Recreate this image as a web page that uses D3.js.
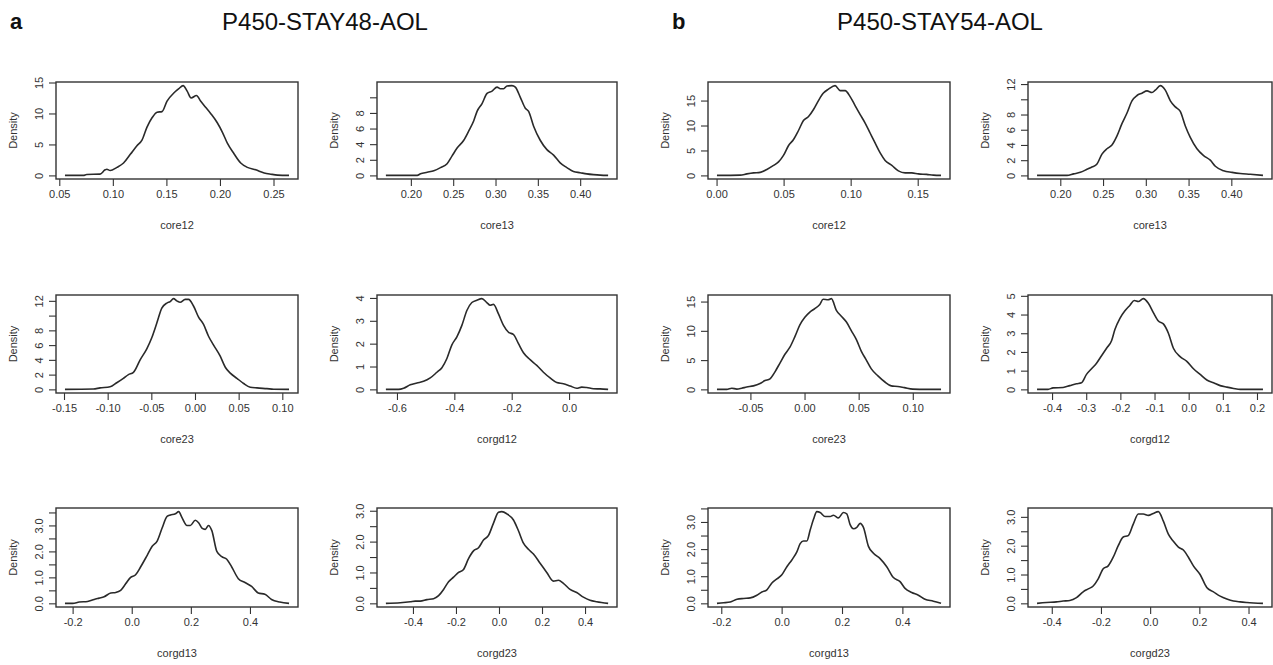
<!DOCTYPE html>
<html><head><meta charset="utf-8">
<script src="https://cdn.jsdelivr.net/npm/d3@7"></script>
<style>
html,body{margin:0;padding:0;background:#fff;}
svg{display:block;font-family:"Liberation Sans",Arial,sans-serif;}
</style></head>
<body><svg id="chart" width="1273" height="665"></svg>
<script>
// ---------- DATA ----------
const groupLetters = ["a", "b"];
const groupTitles = ["P450-STAY48-AOL", "P450-STAY54-AOL"];
const variables = ["core12", "core13", "core23", "corgd12", "corgd13", "corgd23"];

// Group a (P450-STAY48-AOL)
const a_core12_x = [0.0553,0.0725,0.0756,0.088,0.0928,0.0944,0.0975,0.1038,0.110,0.1163,0.1225,0.1272,0.1319,0.1366,0.1413,0.1459,0.1506,0.1569,0.1616,0.1656,0.1694,0.1731,0.1781,0.1819,0.1866,0.1913,0.1975,0.2022,0.2069,0.2131,0.2194,0.2256,0.2334,0.2413,0.2475,0.2538,0.2645];
const a_core12_d = [0,0,0.15,0.2,0.9,1.0,0.8,1.3,2.0,3.4,4.8,5.7,7.8,9.3,10.2,10.3,12.0,13.3,14.0,14.5,13.6,12.5,12.9,12.0,11.0,10.0,8.5,7.0,5.2,3.5,2.0,1.3,0.9,0.4,0.2,0.05,0];
const a_core13_x = [0.1705,0.2075,0.2114,0.2193,0.2271,0.235,0.2428,0.2487,0.2546,0.2625,0.2684,0.2743,0.2782,0.2841,0.29,0.2959,0.3018,0.3057,0.3096,0.3136,0.3194,0.3234,0.3293,0.3352,0.3391,0.345,0.3528,0.3607,0.3686,0.3764,0.3843,0.3921,0.40,0.4078,0.4157,0.4236,0.433];
const a_core13_d = [0,0,0.2,0.4,0.6,1.0,1.5,2.5,3.5,4.5,5.7,7.0,8.2,9.2,10.5,10.8,11.3,11.1,11.1,11.45,11.5,11.3,10.0,8.6,8.2,6.3,4.5,3.3,2.6,1.6,1.0,0.5,0.35,0.2,0.1,0.03,0];
const a_core23_x = [-0.1489,-0.1164,-0.1087,-0.0972,-0.0896,-0.082,-0.0762,-0.0705,-0.0628,-0.0552,-0.0495,-0.0437,-0.038,-0.0322,-0.0284,-0.0246,-0.0208,-0.017,-0.0112,-0.0074,-0.0017,0.0041,0.0098,0.0155,0.0213,0.0289,0.0347,0.0404,0.048,0.0557,0.0633,0.071,0.0824,0.0901,0.1077];
const a_core23_d = [0,0.05,0.2,0.35,0.9,1.5,2.0,2.3,4.0,5.5,7.0,9.0,11.0,11.7,11.9,12.3,12.0,11.8,12.2,12.2,11.3,9.8,8.8,7.2,6.0,4.5,3.0,2.2,1.5,0.8,0.3,0.2,0.1,0.02,0];
const a_corgd12_x = [-0.6386,-0.5942,-0.5768,-0.5536,-0.5304,-0.5072,-0.484,-0.4607,-0.4433,-0.4259,-0.4085,-0.3911,-0.3737,-0.3563,-0.3389,-0.3215,-0.3041,-0.2867,-0.2751,-0.2635,-0.2461,-0.2286,-0.2112,-0.1938,-0.1764,-0.159,-0.1358,-0.1126,-0.0894,-0.0662,-0.043,-0.0198,0.0035,0.0267,0.044,0.0615,0.0847,0.1079,0.1361];
const a_corgd12_d = [0,0,0.05,0.2,0.28,0.35,0.5,0.75,0.95,1.35,1.95,2.3,2.8,3.45,3.8,3.9,3.97,3.8,3.68,3.72,3.3,2.8,2.5,2.4,2.0,1.6,1.3,1.05,0.75,0.5,0.3,0.25,0.15,0.05,0.1,0.08,0.03,0.02,0];
const a_corgd13_x = [-0.2259,-0.2,-0.1776,-0.1495,-0.1271,-0.1103,-0.0935,-0.071,-0.0542,-0.0374,-0.0206,-0.0037,0.0131,0.0299,0.0523,0.0692,0.086,0.1028,0.1196,0.1308,0.1477,0.1589,0.1701,0.1869,0.1981,0.215,0.2262,0.2374,0.2486,0.2598,0.271,0.2879,0.3047,0.3215,0.3383,0.3607,0.3832,0.4056,0.428,0.4505,0.4729,0.501,0.5322];
const a_corgd13_d = [0,0,0.05,0.07,0.15,0.2,0.25,0.4,0.42,0.5,0.75,1.0,1.1,1.4,1.85,2.2,2.4,2.9,3.35,3.4,3.45,3.53,3.3,3.0,3.0,3.2,3.1,2.9,2.85,3.0,2.8,2.0,1.8,1.7,1.4,0.95,0.8,0.65,0.4,0.35,0.15,0.05,0];
const a_corgd23_x = [-0.5258,-0.4588,-0.4124,-0.3892,-0.366,-0.335,-0.3041,-0.2808,-0.2576,-0.2344,-0.2112,-0.188,-0.1648,-0.1416,-0.1184,-0.0952,-0.072,-0.0487,-0.0255,-0.0023,0.0132,0.0364,0.0673,0.0905,0.1137,0.1369,0.1602,0.1911,0.222,0.253,0.2762,0.2994,0.3304,0.3613,0.3923,0.4232,0.4542,0.5073];
const a_corgd23_d = [0,0.02,0.05,0.07,0.07,0.12,0.15,0.25,0.45,0.7,0.85,1.0,1.1,1.45,1.7,1.8,2.05,2.2,2.6,2.95,2.97,2.9,2.7,2.35,1.95,1.75,1.6,1.3,1.0,0.72,0.75,0.65,0.45,0.35,0.2,0.1,0.05,0];

// Group b (P450-STAY54-AOL)
const b_core12_x = [0.0003,0.0176,0.0226,0.0276,0.0325,0.0375,0.0425,0.0462,0.0499,0.0537,0.0574,0.0611,0.0648,0.0686,0.0723,0.076,0.0797,0.0835,0.0884,0.0922,0.0959,0.0996,0.1033,0.1071,0.1108,0.1145,0.1182,0.122,0.1257,0.1307,0.1356,0.1406,0.1456,0.1505,0.1567,0.1617,0.1674];
const b_core12_d = [0,0.05,0.3,0.5,0.6,1.2,2.0,2.7,4.0,6.0,7.2,9.0,11.0,11.8,13.2,15.0,16.5,17.3,18.0,17.0,17.0,15.8,14.0,12.2,10.5,8.5,6.5,4.5,3.0,2.0,0.9,0.5,0.5,0.3,0.2,0.05,0];
const b_core13_x = [0.1728,0.2078,0.2156,0.2234,0.2312,0.237,0.2429,0.2487,0.2546,0.2604,0.2663,0.2721,0.278,0.2838,0.2897,0.2955,0.3014,0.3072,0.3111,0.317,0.3228,0.3287,0.3345,0.3403,0.3462,0.352,0.3598,0.3676,0.3754,0.3813,0.391,0.4008,0.4105,0.4222,0.437];
const b_core13_d = [0,0,0.2,0.4,0.8,1.1,1.5,2.8,3.5,4.0,5.2,6.8,8.2,9.8,10.5,10.8,11.1,10.9,11.2,11.8,11.2,9.8,9.0,8.4,6.5,5.0,3.5,2.6,2.0,1.2,0.6,0.4,0.25,0.15,0];
const b_core23_x = [-0.0809,-0.0718,-0.0672,-0.0626,-0.058,-0.0534,-0.0472,-0.0411,-0.0365,-0.0319,-0.0273,-0.0227,-0.0181,-0.0135,-0.0089,-0.0043,0.0003,0.0049,0.0095,0.0141,0.0172,0.0218,0.0248,0.0294,0.034,0.0387,0.0433,0.0479,0.0525,0.0571,0.0617,0.0678,0.074,0.0801,0.0862,0.0923,0.1,0.1123,0.1261];
const b_core23_d = [0,0,0.2,0.05,0.2,0.4,0.6,1.0,1.5,1.8,3.0,4.5,6.0,7.2,9.0,11.0,12.3,13.2,13.8,14.5,15.4,15.3,15.5,13.5,12.5,11.5,10.0,8.5,6.5,5.0,3.5,2.3,1.3,0.6,0.5,0.3,0.05,0,0];
const b_corgd12_x = [-0.444,-0.4117,-0.3971,-0.3677,-0.3481,-0.3285,-0.3139,-0.2992,-0.2845,-0.2698,-0.2551,-0.2404,-0.2258,-0.216,-0.2013,-0.1866,-0.1719,-0.1592,-0.1475,-0.1328,-0.1181,-0.1034,-0.0887,-0.0741,-0.0594,-0.0447,-0.0251,-0.0055,0.014,0.0336,0.0532,0.0728,0.0923,0.1119,0.1315,0.1511,0.2175];
const b_corgd12_d = [0,0,0.08,0.1,0.2,0.3,0.35,0.8,1.1,1.4,1.8,2.2,2.6,3.2,3.8,4.2,4.5,4.75,4.7,4.85,4.6,4.1,3.65,3.5,3.0,2.2,1.75,1.5,1.1,0.8,0.5,0.35,0.2,0.12,0.05,0,0];
const b_corgd13_x = [-0.2143,-0.1923,-0.1702,-0.1481,-0.1261,-0.104,-0.082,-0.0654,-0.0489,-0.0323,-0.0158,0.0007,0.0173,0.0338,0.0504,0.0614,0.0724,0.0835,0.0945,0.1055,0.1166,0.1276,0.1441,0.1607,0.1717,0.1883,0.2048,0.2158,0.2269,0.2379,0.249,0.26,0.271,0.2876,0.3041,0.3262,0.3482,0.3703,0.3923,0.4089,0.4309,0.453,0.475,0.5026,0.5281];
const b_corgd13_d = [0,0.02,0.05,0.15,0.18,0.2,0.3,0.42,0.5,0.75,0.9,1.05,1.35,1.6,1.9,2.2,2.3,2.3,2.7,3.1,3.38,3.35,3.2,3.2,3.25,3.15,3.35,3.3,2.9,2.75,2.8,2.95,2.8,2.1,1.85,1.65,1.35,0.95,0.8,0.55,0.4,0.3,0.15,0.08,0];
const b_corgd23_x = [-0.4599,-0.4217,-0.381,-0.3538,-0.3267,-0.2995,-0.2723,-0.252,-0.2316,-0.2112,-0.1908,-0.1705,-0.1501,-0.1297,-0.1093,-0.089,-0.0686,-0.0482,-0.0278,-0.0075,0.0129,0.0333,0.0537,0.074,0.0944,0.1148,0.1352,0.1555,0.1759,0.2031,0.2302,0.2574,0.2845,0.3117,0.3389,0.366,0.3932,0.4587];
const b_corgd23_d = [0,0.03,0.05,0.08,0.1,0.2,0.4,0.5,0.6,0.85,1.2,1.3,1.6,2.0,2.3,2.35,2.75,3.1,3.1,3.05,3.12,3.18,2.85,2.4,2.15,1.95,1.85,1.6,1.3,1.0,0.55,0.4,0.25,0.15,0.08,0.05,0.03,0];

// Tick values and labels
const a_core12_xticks = [0.05,0.10,0.15,0.20,0.25];
const a_core12_xlabels = ["0.05","0.10","0.15","0.20","0.25"];
const a_core13_xticks = [0.20,0.25,0.30,0.35,0.40];
const a_core13_xlabels = ["0.20","0.25","0.30","0.35","0.40"];
const a_core23_xticks = [-0.15,-0.10,-0.05,0.00,0.05,0.10];
const a_core23_xlabels = ["-0.15","-0.10","-0.05","0.00","0.05","0.10"];
const a_corgd12_xticks = [-0.6,-0.4,-0.2,0.0];
const a_corgd12_xlabels = ["-0.6","-0.4","-0.2","0.0"];
const a_corgd13_xticks = [-0.2,0.0,0.2,0.4];
const a_corgd13_xlabels = ["-0.2","0.0","0.2","0.4"];
const a_corgd23_xticks = [-0.4,-0.2,0.0,0.2,0.4];
const a_corgd23_xlabels = ["-0.4","-0.2","0.0","0.2","0.4"];
const b_core12_xticks = [0.00,0.05,0.10,0.15];
const b_core12_xlabels = ["0.00","0.05","0.10","0.15"];
const b_core13_xticks = [0.20,0.25,0.30,0.35,0.40];
const b_core13_xlabels = ["0.20","0.25","0.30","0.35","0.40"];
const b_core23_xticks = [-0.05,0.00,0.05,0.10];
const b_core23_xlabels = ["-0.05","0.00","0.05","0.10"];
const b_corgd12_xticks = [-0.4,-0.3,-0.2,-0.1,0.0,0.1,0.2];
const b_corgd12_xlabels = ["-0.4","-0.3","-0.2","-0.1","0.0","0.1","0.2"];
const b_corgd13_xticks = [-0.2,0.0,0.2,0.4];
const b_corgd13_xlabels = ["-0.2","0.0","0.2","0.4"];
const b_corgd23_xticks = [-0.4,-0.2,0.0,0.2,0.4];
const b_corgd23_xlabels = ["-0.4","-0.2","0.0","0.2","0.4"];

const a_core12_yticks = [0,5,10,15];           const a_core12_ylabels = ["0","5","10","15"];
const a_core13_yticks = [0,2,4,6,8,10];        const a_core13_ylabels = ["0","2","4","6","8",""];
const a_core23_yticks = [0,2,4,6,8,10,12];     const a_core23_ylabels = ["0","2","4","6","8","","12"];
const a_corgd12_yticks = [0,1,2,3,4];          const a_corgd12_ylabels = ["0","1","2","3","4"];
const a_corgd13_yticks = [0,0.5,1,1.5,2,2.5,3,3.5]; const a_corgd13_ylabels = ["0.0","","1.0","","2.0","","3.0",""];
const a_corgd23_yticks = [0,0.5,1,1.5,2,2.5,3]; const a_corgd23_ylabels = ["0.0","","1.0","","2.0","","3.0"];
const b_core12_yticks = [0,5,10,15];           const b_core12_ylabels = ["0","5","10","15"];
const b_core13_yticks = [0,2,4,6,8,10,12];     const b_core13_ylabels = ["0","2","4","6","8","","12"];
const b_core23_yticks = [0,5,10,15];           const b_core23_ylabels = ["0","5","10","15"];
const b_corgd12_yticks = [0,1,2,3,4,5];        const b_corgd12_ylabels = ["0","1","2","3","4","5"];
const b_corgd13_yticks = [0,0.5,1,1.5,2,2.5,3,3.5]; const b_corgd13_ylabels = ["0.0","","1.0","","2.0","","3.0",""];
const b_corgd23_yticks = [0,0.5,1,1.5,2,2.5,3]; const b_corgd23_ylabels = ["0.0","","1.0","","2.0","","3.0"];

// Table built from the arrays above
const panels = [
  {g:0,v:0,x:a_core12_x,d:a_core12_d,xt:a_core12_xticks,xl:a_core12_xlabels,yt:a_core12_yticks,yl:a_core12_ylabels},
  {g:0,v:1,x:a_core13_x,d:a_core13_d,xt:a_core13_xticks,xl:a_core13_xlabels,yt:a_core13_yticks,yl:a_core13_ylabels},
  {g:0,v:2,x:a_core23_x,d:a_core23_d,xt:a_core23_xticks,xl:a_core23_xlabels,yt:a_core23_yticks,yl:a_core23_ylabels},
  {g:0,v:3,x:a_corgd12_x,d:a_corgd12_d,xt:a_corgd12_xticks,xl:a_corgd12_xlabels,yt:a_corgd12_yticks,yl:a_corgd12_ylabels},
  {g:0,v:4,x:a_corgd13_x,d:a_corgd13_d,xt:a_corgd13_xticks,xl:a_corgd13_xlabels,yt:a_corgd13_yticks,yl:a_corgd13_ylabels},
  {g:0,v:5,x:a_corgd23_x,d:a_corgd23_d,xt:a_corgd23_xticks,xl:a_corgd23_xlabels,yt:a_corgd23_yticks,yl:a_corgd23_ylabels},
  {g:1,v:0,x:b_core12_x,d:b_core12_d,xt:b_core12_xticks,xl:b_core12_xlabels,yt:b_core12_yticks,yl:b_core12_ylabels},
  {g:1,v:1,x:b_core13_x,d:b_core13_d,xt:b_core13_xticks,xl:b_core13_xlabels,yt:b_core13_yticks,yl:b_core13_ylabels},
  {g:1,v:2,x:b_core23_x,d:b_core23_d,xt:b_core23_xticks,xl:b_core23_xlabels,yt:b_core23_yticks,yl:b_core23_ylabels},
  {g:1,v:3,x:b_corgd12_x,d:b_corgd12_d,xt:b_corgd12_xticks,xl:b_corgd12_xlabels,yt:b_corgd12_yticks,yl:b_corgd12_ylabels},
  {g:1,v:4,x:b_corgd13_x,d:b_corgd13_d,xt:b_corgd13_xticks,xl:b_corgd13_xlabels,yt:b_corgd13_yticks,yl:b_corgd13_ylabels},
  {g:1,v:5,x:b_corgd23_x,d:b_corgd23_d,xt:b_corgd23_xticks,xl:b_corgd23_xlabels,yt:b_corgd23_yticks,yl:b_corgd23_ylabels}
];

// ---------- LAYOUT ----------
const boxLeft  = [56, 377, 708, 1028];
const boxRight = [298, 617, 950, 1272];
const boxTop   = [82, 295, 508];
const boxBot   = [179, 393, 607];
const titleX   = [325, 940];
const letterX  = [10, 672];
const ink = "#333";
const tickFont = 11;
const labelFont = 11;

const svg = d3.select("#chart");

// group titles
groupLetters.forEach((L, i) => {
  svg.append("text").attr("x", letterX[i]).attr("y", 29)
    .attr("font-size", 22).attr("font-weight", "bold").attr("fill", "#111").text(L);
  svg.append("text").attr("x", titleX[i]).attr("y", 30)
    .attr("text-anchor", "middle").attr("font-size", 24).attr("fill", "#111").text(groupTitles[i]);
});

panels.forEach(p => {
  const col = p.g * 2 + (p.v % 2);
  const row = Math.floor(p.v / 2);
  const L = boxLeft[col], R = boxRight[col], T = boxTop[row], B = boxBot[row];
  const n = Math.min(p.x.length, p.d.length);
  const pts = d3.range(n).map(i => [p.x[i], p.d[i]]);
  const [x0, x1] = d3.extent(pts, q => q[0]);
  const rx = x1 - x0;
  const ymax = d3.max(pts, q => q[1]);
  const xs = d3.scaleLinear().domain([x0 - 0.04 * rx, x1 + 0.04 * rx]).range([L, R]);
  const ys = d3.scaleLinear().domain([-0.04 * ymax, 1.04 * ymax]).range([B, T]);

  const g = svg.append("g");

  // x axis
  const xtv = p.xt.filter(t => t >= xs.domain()[0] && t <= xs.domain()[1]);
  const xax = g.append("g").attr("transform", `translate(0,${B})`)
    .call(d3.axisBottom(xs).tickValues(xtv).tickSize(7).tickPadding(4)
      .tickFormat(t => p.xl[p.xt.indexOf(t)]));
  xax.select(".domain").remove();
  xax.selectAll("line").attr("stroke", ink).attr("stroke-width", 1.1);
  xax.selectAll("text").attr("fill", ink).attr("font-size", tickFont)
    .attr("font-family", '"Liberation Sans", Arial, sans-serif');

  // y axis
  const ytv = p.yt.filter(t => t >= ys.domain()[0] && t <= ys.domain()[1]);
  const yax = g.append("g").attr("transform", `translate(${L},0)`)
    .call(d3.axisLeft(ys).tickValues(ytv).tickSize(7)
      .tickFormat(t => p.yl[p.yt.indexOf(t)]));
  yax.select(".domain").remove();
  yax.selectAll("line").attr("stroke", ink).attr("stroke-width", 1.1);
  yax.selectAll("text").attr("fill", ink).attr("font-size", tickFont)
    .attr("font-family", '"Liberation Sans", Arial, sans-serif')
    .attr("x", 0).attr("y", 0).attr("dy", "0.35em")
    .attr("transform", "translate(-17,0) rotate(-90)")
    .style("text-anchor", "middle");

  // box
  g.append("rect").attr("x", L).attr("y", T).attr("width", R - L).attr("height", B - T)
    .attr("fill", "none").attr("stroke", ink).attr("stroke-width", 1.4);

  // density line
  const line = d3.line().x(q => xs(q[0])).y(q => ys(q[1])).curve(d3.curveMonotoneX);
  g.append("path").datum(pts).attr("d", line)
    .attr("fill", "none").attr("stroke", "#2a2a2a").attr("stroke-width", 1.6)
    .attr("stroke-linejoin", "round");

  // axis labels
  g.append("text").attr("x", (L + R) / 2).attr("y", B + 46).attr("dy", "0.35em")
    .attr("text-anchor", "middle").attr("font-size", labelFont).attr("fill", ink)
    .text(variables[p.v]);
  g.append("text").attr("transform", `translate(${L - 43},${(T + B) / 2}) rotate(-90)`)
    .attr("dy", "0.35em").attr("text-anchor", "middle")
    .attr("font-size", labelFont).attr("fill", ink).text("Density");
});
</script>
</body></html>
